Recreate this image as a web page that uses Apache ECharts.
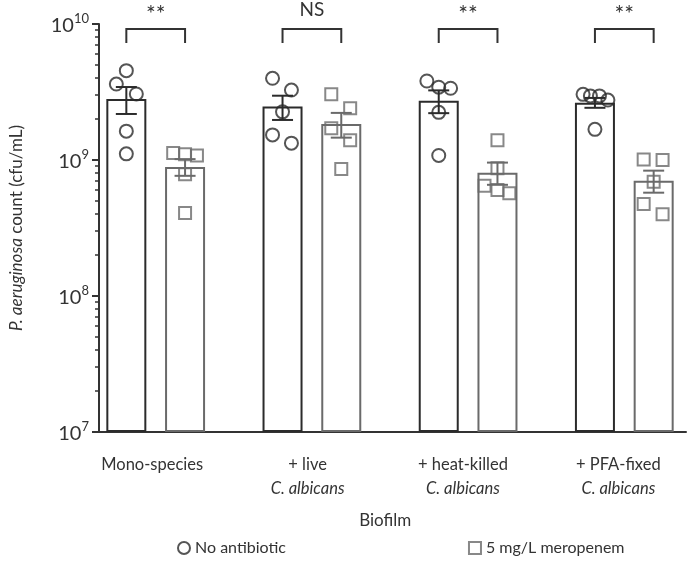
<!DOCTYPE html>
<html><head><meta charset="utf-8">
<script src="https://cdn.jsdelivr.net/npm/echarts@6/dist/echarts.min.js"></script>
<style>html,body{margin:0;padding:0;background:#fff}#c{width:696px;height:566px}</style>
</head><body><div id="c"></div>
<script>
// ---- data ----
const categories = ['Mono-species', '+ live', '+ heat-killed', '+ PFA-fixed'];
const categorySub = ['', 'C. albicans', 'C. albicans', 'C. albicans'];
const seriesNames = ['No antibiotic', '5 mg/L meropenem'];
const meanNoAbx = [2.81e9, 2.47e9, 2.73e9, 2.64e9];
const semNoAbx = [0.63e9, 0.50e9, 0.52e9, 0.22e9];
const meanMero = [0.89e9, 1.84e9, 0.807e9, 0.705e9];
const semMero = [0.125e9, 0.38e9, 0.15e9, 0.13e9];
const pointsNoAbx = [
  [4.54e9, 3.62e9, 3.06e9, 1.63e9, 1.11e9],
  [3.99e9, 3.27e9, 2.26e9, 1.53e9, 1.33e9],
  [3.81e9, 3.43e9, 3.37e9, 2.24e9, 1.08e9],
  [3.04e9, 2.96e9, 2.96e9, 2.76e9, 1.68e9]
];
const jitterNoAbx = [
  [0, -0.064, 0.064, 0, 0],
  [-0.064, 0.057, 0, -0.064, 0.057],
  [-0.076, 0, 0.076, 0, 0],
  [-0.076, -0.029, 0.029, 0.083, 0]
];
const pointsMero = [
  [1.125e9, 1.10e9, 1.08e9, 7.85e8, 4.07e8],
  [3.04e9, 2.40e9, 1.71e9, 1.40e9, 8.6e8],
  [1.40e9, 8.69e8, 6.47e8, 6.02e8, 5.69e8],
  [1.01e9, 1.0e9, 6.92e8, 4.75e8, 3.99e8]
];
const jitterMero = [
  [-0.076, 0, 0.076, 0, 0],
  [-0.064, 0.057, -0.064, 0.057, 0],
  [0, 0, -0.083, 0, 0.076],
  [-0.064, 0.057, 0, -0.064, 0.057]
];
const significance = ['**', 'NS', '**', '**'];
const bracketTop = 9.19e9;
const bracketLeg = 7.24e9;
const yMin = 1e7, yMax = 1e10;
const decades = [1e7, 1e8, 1e9];
const minorMultipliers = [2, 3, 4, 5, 6, 7, 8, 9];
const minorTickValues = decades.flatMap(d => minorMultipliers.map(k => d * k));

// ---- layout / style ----
const FONT = 'Lato';
const C1 = '#2b2b2b', C2 = '#6a6a6a';
const OFF = 0.188;       // half distance between bar centres, in group units
const X_MIN = 0.637, X_MAX = 4.395;

const chart = echarts.init(document.getElementById('c'), null, {renderer: 'canvas'});

function errRender(color) {
  return function (params, api) {
    const x = api.value(0), m = api.value(1), s = api.value(2);
    const t = api.coord([x, m + s]), b = api.coord([x, m - s]);
    const hw = 10.5;
    const st = {stroke: color, lineWidth: 2};
    return {type: 'group', children: [
      {type: 'line', shape: {x1: t[0], y1: t[1], x2: b[0], y2: b[1]}, style: st},
      {type: 'line', shape: {x1: t[0] - hw, y1: t[1], x2: t[0] + hw, y2: t[1]}, style: st},
      {type: 'line', shape: {x1: b[0] - hw, y1: b[1], x2: b[0] + hw, y2: b[1]}, style: st}
    ]};
  };
}

const option = {
  backgroundColor: '#fff',
  animation: false,
  textStyle: {fontFamily: FONT, color: '#333'},
  grid: [
    {left: 96, right: 10, top: 24, bottom: 134},
    {left: 74.5, width: 628, top: 24, bottom: 134}
  ],
  legend: {
    data: seriesNames,
    left: 172, top: 535,
    itemGap: 182, itemWidth: 12, itemHeight: 12,
    textStyle: {fontFamily: FONT, fontSize: 16, color: '#333'}
  },
  xAxis: [
    {type: 'value', gridIndex: 0, min: X_MIN, max: X_MAX,
     axisLine: {show: true, onZero: false, lineStyle: {color: '#333', width: 2}},
     axisTick: {show: false}, axisLabel: {show: false}, splitLine: {show: false}},
    {type: 'category', gridIndex: 1, data: categories,
     axisLine: {show: false}, axisTick: {show: false}, splitLine: {show: false},
     name: 'Biofilm', nameLocation: 'middle', nameGap: 80,
     nameTextStyle: {fontFamily: FONT, fontSize: 17, color: '#333'},
     axisLabel: {
       margin: 21, interval: 0,
       formatter: (v, i) => categorySub[i] ? v + '\n{i|' + categorySub[i] + '}' : v,
       fontFamily: FONT, fontSize: 16.5, color: '#333', lineHeight: 24,
       rich: {i: {fontStyle: 'italic', fontFamily: FONT, fontSize: 16.5, color: '#333', lineHeight: 24}}
     }}
  ],
  yAxis: [
    {type: 'log', logBase: 10, gridIndex: 0, min: yMin, max: yMax, startValue: yMin,
     axisLine: {show: true, onZero: false, lineStyle: {color: '#333', width: 2}},
     axisTick: {show: true, length: 7, lineStyle: {color: '#333', width: 2}},
     splitLine: {show: false},
     name: '{i|P. aeruginosa} count (cfu/mL)', nameLocation: 'middle', nameGap: 74,
     nameTextStyle: {fontFamily: FONT, fontSize: 17, color: '#333',
       rich: {i: {fontStyle: 'italic', fontFamily: FONT, fontSize: 17, color: '#333'}}},
     axisLabel: {
       margin: 10,
       formatter: v => '{b|10}{s|' + Math.round(Math.log10(v)) + '}',
       rich: {
         b: {fontFamily: FONT, fontSize: 20, color: '#333', verticalAlign: 'bottom'},
         s: {fontFamily: FONT, fontSize: 13, color: '#333', verticalAlign: 'bottom', padding: [0, 0, 10, 0]}
       }
     }},
    {type: 'value', gridIndex: 0, position: 'left', offset: 0,
     min: Math.log10(yMin), max: Math.log10(yMax),
     axisLine: {show: false}, axisLabel: {show: false}, splitLine: {show: false},
     axisTick: {show: true, length: 4, customValues: minorTickValues.map(v => Math.log10(v)),
                lineStyle: {color: '#333', width: 1.5}}},
    {type: 'value', gridIndex: 1, show: false}
  ],
  series: [
    {name: 'bar-noabx', type: 'bar', xAxisIndex: 0, yAxisIndex: 0, barWidth: 40, barGap: '-100%',
     data: meanNoAbx.map((v, i) => [i + 1 - OFF, v]),
     itemStyle: {color: '#fff', borderColor: C1, borderWidth: 2}, z: 1},
    {name: 'bar-mero', type: 'bar', xAxisIndex: 0, yAxisIndex: 0, barWidth: 40, barGap: '-100%',
     data: meanMero.map((v, i) => [i + 1 + OFF, v]),
     itemStyle: {color: '#fff', borderColor: C2, borderWidth: 2}, z: 1},
    {name: 'err-noabx', type: 'custom', xAxisIndex: 0, yAxisIndex: 0, z: 3, clip: false,
     data: meanNoAbx.map((v, i) => [i + 1 - OFF, v, semNoAbx[i]]),
     encode: {x: 0, y: 1}, renderItem: errRender(C1)},
    {name: 'err-mero', type: 'custom', xAxisIndex: 0, yAxisIndex: 0, z: 3, clip: false,
     data: meanMero.map((v, i) => [i + 1 + OFF, v, semMero[i]]),
     encode: {x: 0, y: 1}, renderItem: errRender(C2)},
    {name: seriesNames[0], type: 'scatter', xAxisIndex: 0, yAxisIndex: 0, z: 4,
     symbol: 'circle', symbolSize: 13,
     data: pointsNoAbx.flatMap((arr, i) => arr.map((v, j) => [i + 1 - OFF + jitterNoAbx[i][j], v])),
     itemStyle: {color: 'rgba(255,255,255,0)', borderColor: C1, borderWidth: 2}},
    {name: seriesNames[1], type: 'scatter', xAxisIndex: 0, yAxisIndex: 0, z: 4,
     symbol: 'rect', symbolSize: 12,
     data: pointsMero.flatMap((arr, i) => arr.map((v, j) => [i + 1 + OFF + jitterMero[i][j], v])),
     itemStyle: {color: 'rgba(255,255,255,0)', borderColor: C2, borderWidth: 2}},
    {name: 'brackets', type: 'custom', xAxisIndex: 0, yAxisIndex: 0, z: 5, silent: true, clip: false,
     data: significance.map((s, i) => [i + 1, bracketTop, bracketLeg]),
     encode: {x: 0, y: 1},
     renderItem: (params, api) => {
       const g = api.value(0);
       const tl = api.coord([g - OFF, api.value(1)]), tr = api.coord([g + OFF, api.value(1)]);
       const bl = api.coord([g - OFF, api.value(2)]);
       const txt = significance[params.dataIndex];
       const isNS = txt === 'NS';
       return {type: 'group', children: [
         {type: 'polyline', shape: {points: [[tl[0], bl[1]], tl, tr, [tr[0], bl[1]]]},
          style: {stroke: '#333', lineWidth: 2, fill: null}},
         {type: 'text', style: {text: txt, x: (tl[0] + tr[0]) / 2, y: isNS ? tl[1] - 10 : tl[1] - 3,
          align: 'center', verticalAlign: 'bottom',
          fontFamily: FONT, fontSize: isNS ? 19 : 23, fill: '#333'}}
       ]};
     }}
  ]
};
chart.setOption(option);
</script>
</body></html>
